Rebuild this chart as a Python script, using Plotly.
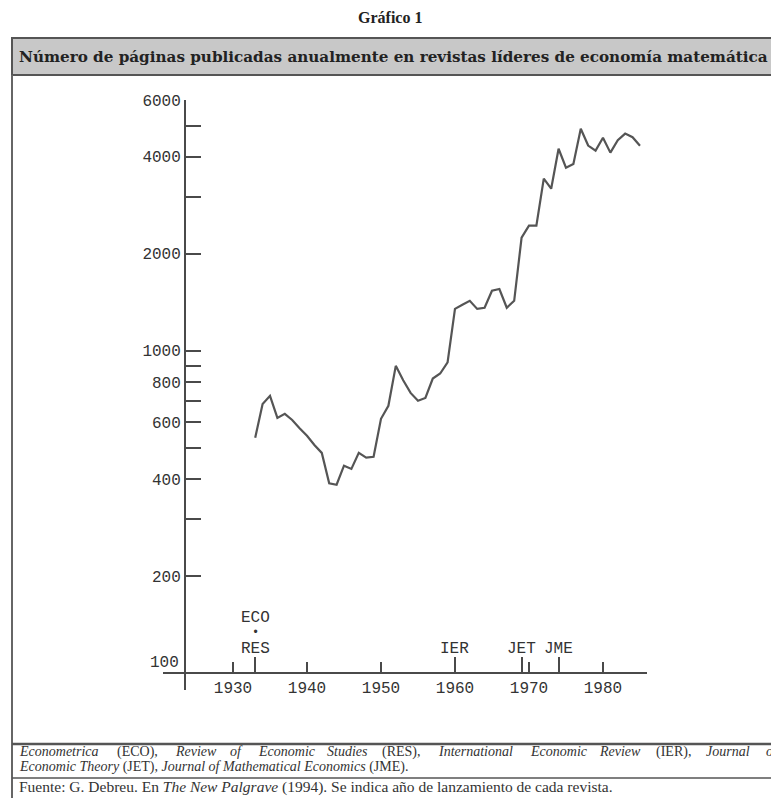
import plotly.graph_objects as go

# ---------------- data ----------------
years = list(range(1933, 1986))
pages = [537, 684, 725, 619, 637, 610, 575, 545, 510, 482,
         388, 384, 440, 430, 482, 466, 469, 615, 675, 898,
         810, 740, 700, 714, 820, 850, 920, 1349, 1390, 1429,
         1349, 1360, 1535, 1555, 1360, 1429, 2244, 2444, 2444, 3420,
         3184, 4236, 3700, 3800, 4888, 4334, 4180, 4580, 4120, 4500,
         4720, 4600, 4330]

journals = ["ECO", "RES", "IER", "JET", "JME"]
launch_years = [1933, 1933, 1960, 1969, 1974]

x_ticks = [1930, 1940, 1950, 1960, 1970, 1980]
y_ticks = [100, 200, 400, 600, 800, 1000, 2000, 4000, 6000]
y_minor = [300, 500, 700, 900, 3000, 5000]

title_text = "Gráfico 1"
header_text = "Número de páginas publicadas anualmente en revistas líderes de economía matemática"
note_line1 = [("Econometrica", True), ("(ECO),", False), ("Review", True), ("of", True),
              ("Economic", True), ("Studies", True), ("(RES),", False),
              ("International", True), ("Economic", True), ("Review", True),
              ("(IER),", False), ("Journal", True), ("of", True)]
note_line2 = "<i>Economic Theory</i> (JET), <i>Journal of Mathematical Economics</i> (JME)."
source_text = "Fuente: G. Debreu. En <i>The New Palgrave</i> (1994). Se indica año de lanzamiento de cada revista."

# approximate rendered word widths (px) used to justify the first footnote line
line1_widths = [81, 41, 39, 11, 52, 38, 40, 75, 52, 40, 34, 43, 12]

# ---------------- geometry helpers (window pixel -> paper) ----------------
W, H = 779, 798
OFF = 8                     # default page body margin
L, R, T, B = 163, 647, 100, 690


def px(x):
    return (x - L) / (R - L)


def py(y):
    return (B - y) / (B - T)


AX = "#4a4a4a"
TXT = "#333333"
MONO = "Liberation Mono, Courier New, monospace"
SERIF = "Liberation Serif, Times New Roman, serif"

fig = go.Figure()
fig.add_trace(go.Scatter(x=years, y=pages, mode="lines",
                         line=dict(color="#555555", width=2.2),
                         hoverinfo="skip", showlegend=False))

fig.update_layout(
    width=W - OFF, height=H - OFF,
    margin=dict(l=L - OFF, r=W - R, t=T - OFF, b=H - B, pad=0),
    paper_bgcolor="white", plot_bgcolor="white",
    showlegend=False,
    xaxis=dict(range=[1920.54, 1985.95], anchor="free", position=py(673),
               showgrid=False, zeroline=False, showline=True,
               linecolor=AX, linewidth=2,
               tickmode="array", tickvals=x_ticks,
               ticktext=[str(v) for v in x_ticks],
               ticks="inside", ticklen=10, tickwidth=2, tickcolor=AX,
               tickfont=dict(family=MONO, size=16, color=TXT),
               minor=dict(tickmode="array", tickvals=sorted(set(launch_years)),
                          ticks="inside", ticklen=15, tickwidth=2, tickcolor=AX,
                          showgrid=False)),
    yaxis=dict(type="log", range=[1.9473, 3.7782], anchor="free", position=px(185),
               showgrid=False, zeroline=False, showline=True,
               linecolor=AX, linewidth=2,
               tickmode="array", tickvals=y_ticks,
               ticktext=["" if v == 100 else str(v) for v in y_ticks],
               ticks="inside", ticklen=15, tickwidth=2, tickcolor=AX,
               tickfont=dict(family=MONO, size=16, color=TXT),
               minor=dict(tickmode="array", tickvals=y_minor,
                          ticks="inside", ticklen=15, tickwidth=2, tickcolor=AX,
                          showgrid=False)),
)

shapes = []
shapes.append(dict(type="rect", xref="paper", yref="paper",
                   x0=px(12), x1=px(820), y0=py(38), y1=py(75),
                   fillcolor="#c8c8c8", line=dict(color="#555555", width=2), layer="below"))
shapes.append(dict(type="line", xref="paper", yref="paper",
                   x0=px(12), x1=px(12), y0=py(75), y1=py(810),
                   line=dict(color="#666666", width=2)))
shapes.append(dict(type="line", xref="paper", yref="paper",
                   x0=px(12), x1=px(820), y0=py(744), y1=py(744),
                   line=dict(color="#555555", width=2.5)))
shapes.append(dict(type="line", xref="paper", yref="paper",
                   x0=px(12), x1=px(820), y0=py(778), y1=py(778),
                   line=dict(color="#555555", width=1.5)))
fig.update_layout(shapes=shapes)

ann = []
ann.append(dict(text="<b>" + title_text + "</b>", xref="paper", yref="paper",
                x=px(390), y=py(17), xanchor="center", yanchor="middle", showarrow=False,
                font=dict(family=SERIF, size=16, color="#222222")))
ann.append(dict(text="<b>" + header_text + "</b>", xref="paper", yref="paper",
                x=px(17), y=py(57), xanchor="left", yanchor="middle", showarrow=False,
                font=dict(family="DejaVu Serif, serif", size=15.2, color="#222222")))

# label "100" sits slightly above the x-axis line
ann.append(dict(text=str(y_ticks[0]), xref="paper", yref="paper", x=px(181), y=py(663),
                xanchor="right", yanchor="middle", showarrow=False,
                font=dict(family=MONO, size=16, color=TXT)))

# journal launch labels
for j, yr in zip(journals, launch_years):
    ylab = 618 if j == "ECO" else 649
    ann.append(dict(text=j, xref="x", yref="paper", x=yr, y=py(ylab),
                    xanchor="center", yanchor="middle", showarrow=False,
                    font=dict(family=MONO, size=16, color=TXT)))
ann.append(dict(text="•", xref="x", yref="paper", x=launch_years[0], y=py(633),
                xanchor="center", yanchor="middle", showarrow=False,
                font=dict(family=MONO, size=12, color=TXT)))

# footnote line 1, justified across the width
FS = 14
x_start, x_end = 17, 776
gap = (x_end - x_start - sum(line1_widths)) / (len(line1_widths) - 1)
cur = x_start
for (w, it), wd in zip(note_line1, line1_widths):
    t = "<i>" + w + "</i>" if it else w
    ann.append(dict(text=t, xref="paper", yref="paper", x=px(cur), y=py(752),
                    xanchor="left", yanchor="middle", showarrow=False,
                    font=dict(family=SERIF, size=FS, color=TXT)))
    cur += wd + gap
ann.append(dict(text=note_line2, xref="paper", yref="paper", x=px(17), y=py(767),
                xanchor="left", yanchor="middle", showarrow=False,
                font=dict(family=SERIF, size=FS, color=TXT)))
ann.append(dict(text=source_text, xref="paper", yref="paper", x=px(17), y=py(787),
                xanchor="left", yanchor="middle", showarrow=False,
                font=dict(family=SERIF, size=15.5, color=TXT)))
fig.update_layout(annotations=ann)

fig.write_html("out.html")
